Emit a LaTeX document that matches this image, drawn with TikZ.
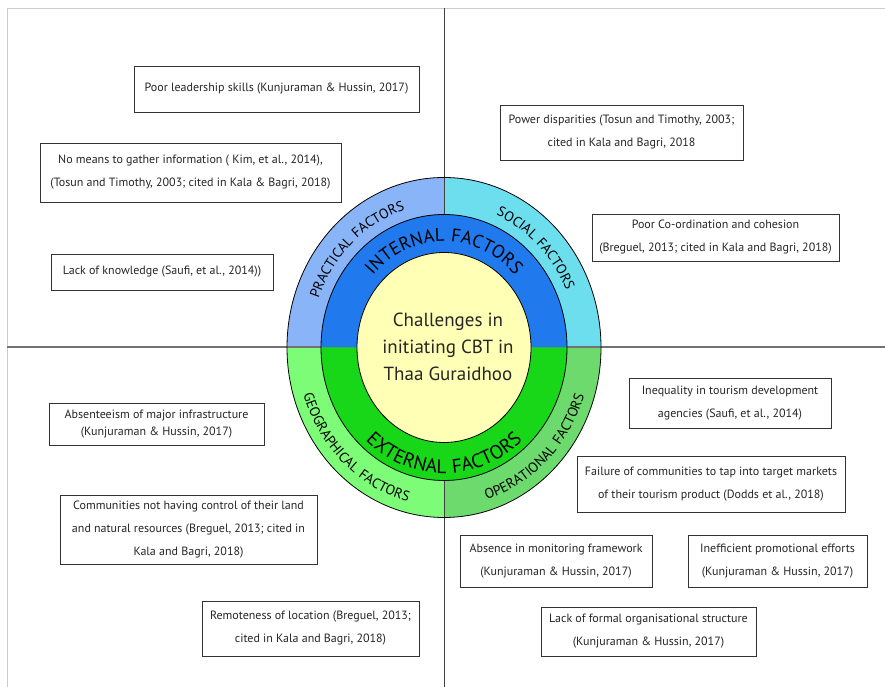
\documentclass[tikz,border=0pt]{standalone}
\usepackage{fontspec}
\setmainfont{PT Sans}
\usetikzlibrary{decorations.text}
\definecolor{practicalc}{HTML}{8AB4F8}
\definecolor{socialc}{HTML}{6CDEEE}
\definecolor{internalc}{HTML}{207AEE}
\definecolor{externalc}{HTML}{18D618}
\definecolor{geoc}{HTML}{7DFC78}
\definecolor{operc}{HTML}{6CDA6C}
\definecolor{centrec}{HTML}{FFFFB6}
\tikzset{%
factbox/.style={draw=black!80,line width=0.9pt,fill=white,align=center,inner sep=0pt,
  text=black!85,font=\fontsize{12}{23}\selectfont},
ringline/.style={draw=black,line width=0.8pt},
ringlabel/.style args={#1#2}{decorate,
  decoration={text along path,text align=center,
  text={|\fontsize{#1}{#1}\selectfont\addfontfeature{LetterSpace=6}|#2}}},
}
\begin{document}
\begin{tikzpicture}[x=1pt,y=1pt]
    \useasboundingbox (0,0) rectangle (885,687);
    \coordinate (O) at (444,339.5);
    \draw[black!20,line width=0.8pt] (7,0) -- (7,679) -- (885,679);
    % outer ring
    \fill[practicalc] (O) -- ++(90:157 and 170) arc[start angle=90,end angle=180,x radius=157,y radius=170] -- cycle;
    \fill[socialc] (O) -- ++(0:157 and 170) arc[start angle=0,end angle=90,x radius=157,y radius=170] -- cycle;
    \fill[geoc] (O) -- ++(180:157 and 170) arc[start angle=180,end angle=270,x radius=157,y radius=170] -- cycle;
    \fill[operc] (O) -- ++(270:157 and 170) arc[start angle=270,end angle=360,x radius=157,y radius=170] -- cycle;
    \draw[black!55,line width=1.2pt] (7,340) -- (885,340);
    \draw[black!75,line width=0.9pt] (444,0) -- (444,679);
    % middle ring
    \fill[internalc] (O) ++(0:123 and 133) arc[start angle=0,end angle=180,x radius=123,y radius=133] -- cycle;
    \fill[externalc] (O) ++(180:123 and 133) arc[start angle=180,end angle=360,x radius=123,y radius=133] -- cycle;
    \draw[ringline] (O) ellipse[x radius=157,y radius=170];
    \draw[ringline] (O) ellipse[x radius=123,y radius=133];
    \draw[ringline,fill=centrec] (O) ellipse[x radius=87,y radius=95];
    \node[align=center,text=black!85,font=\fontsize{19}{26.7}\selectfont] (title) at (448,340)
      {Challenges in\\initiating CBT in\\Thaa Guraidhoo};
    % ring labels
    \path[ringlabel={14}{PRACTICAL FACTORS}] (O) ++(178:133 and 144) arc[start angle=178,end angle=88,x radius=133,y radius=144];
    \path[ringlabel={14}{SOCIAL FACTORS}] (O) ++(92:133 and 144) arc[start angle=92,end angle=0,x radius=133,y radius=144];
    \path[ringlabel={14}{GEOGRAPHICAL FACTORS}] (O) ++(182:147 and 159) arc[start angle=182,end angle=272,x radius=147,y radius=159];
    \path[ringlabel={14}{OPERATIONAL FACTORS}] (O) ++(268:147 and 159) arc[start angle=268,end angle=360,x radius=147,y radius=159];
    \path[ringlabel={18.5}{INTERNAL FACTORS}] (O) ++(175:97 and 106) arc[start angle=175,end angle=5,x radius=97,y radius=106];
    \path[ringlabel={19.5}{EXTERNAL FACTORS}] (O) ++(185:116 and 126) arc[start angle=185,end angle=355,x radius=116,y radius=126];
    % internal factor boxes
    \node[factbox,minimum width=285pt,minimum height=46pt] (leader) at (276.5,598)
      {Poor leadership skills (Kunjuraman \& Hussin, 2017)};
    \node[factbox,minimum width=301pt,minimum height=59pt] (info) at (190.5,514.5)
      {No means to gather information ( Kim, et al., 2014),\\(Tosun and Timothy, 2003; cited in Kala \& Bagri, 2018)};
    \node[factbox,minimum width=222pt,minimum height=36pt] (knowledge) at (162,415)
      {Lack of knowledge (Saufi, et al., 2014))};
    \node[factbox,minimum width=243pt,minimum height=55pt] (power) at (621.5,554.5)
      {Power disparities (Tosun and Timothy, 2003;\\cited in Kala and Bagri, 2018};
    \node[factbox,minimum width=247pt,minimum height=47pt] (cohesion) at (715.5,449.5)
      {Poor Co-ordination and cohesion\\(Breguel, 2013; cited in Kala and Bagri, 2018)};
    % external factor boxes
    \node[factbox,minimum width=215pt,minimum height=42pt,font=\fontsize{12}{17}\selectfont] (infra) at (156.5,263)
      {Absenteeism of major infrastructure\\(Kunjuraman \& Hussin, 2017)};
    \node[factbox,minimum width=257pt,minimum height=69pt] (land) at (188.5,157.5)
      {Communities not having control of their land\\and natural resources (Breguel, 2013; cited in\\Kala and Bagri, 2018)};
    \node[factbox,minimum width=217pt,minimum height=55pt] (remote) at (310.5,58.5)
      {Remoteness of location (Breguel, 2013;\\cited in Kala and Bagri, 2018)};
    \node[factbox,minimum width=202pt,minimum height=50pt] (inequal) at (730,284)
      {Inequality in tourism development\\agencies (Saufi, et al., 2014)};
    \node[factbox,minimum width=268pt,minimum height=56pt] (markets) at (711,203)
      {Failure of communities to tap into target markets\\of their tourism product (Dodds et al., 2018)};
    \node[factbox,minimum width=192pt,minimum height=52pt] (monitor) at (556,126)
      {Absence in monitoring framework\\(Kunjuraman \& Hussin, 2017)};
    \node[factbox,minimum width=179pt,minimum height=52pt] (promo) at (777.5,126)
      {Inefficient promotional efforts\\(Kunjuraman \& Hussin, 2017)};
    \node[factbox,minimum width=215pt,minimum height=49pt] (structure) at (648.5,55.5)
      {Lack of formal organisational structure\\(Kunjuraman \& Hussin, 2017)};
\end{tikzpicture}
\end{document}
